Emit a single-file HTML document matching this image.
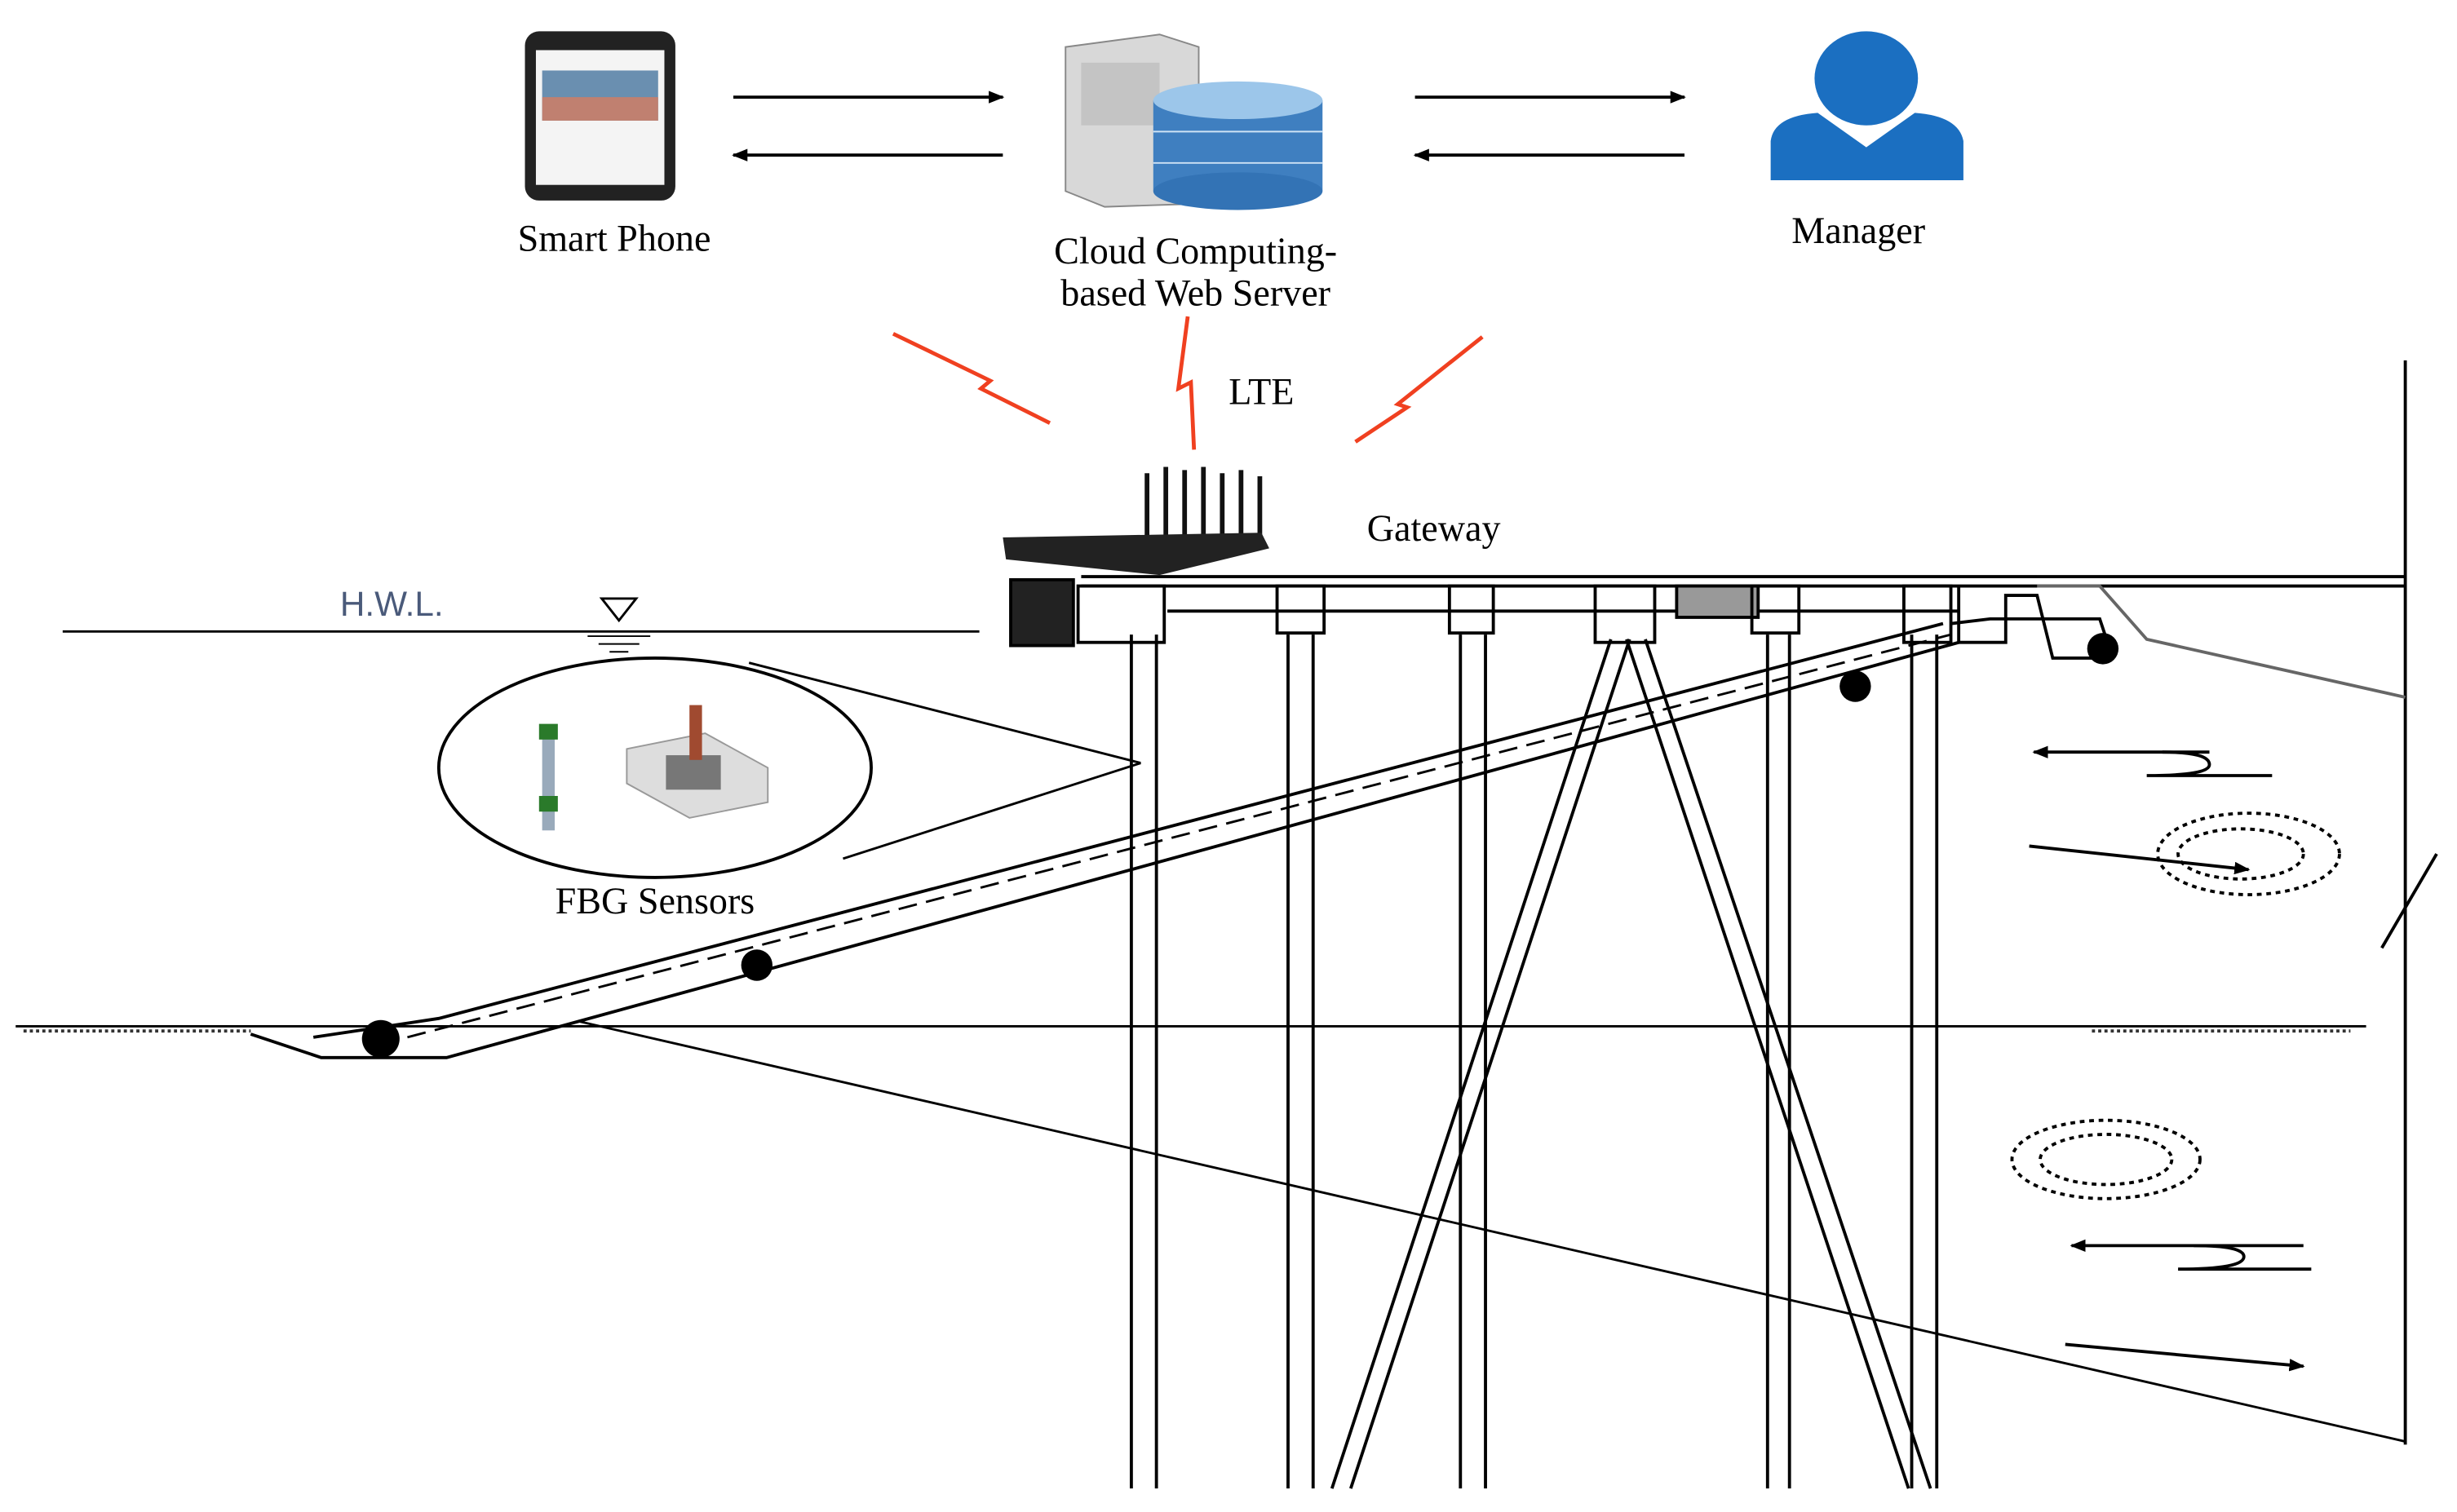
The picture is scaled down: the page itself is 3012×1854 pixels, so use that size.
<!DOCTYPE html>
<html><head><meta charset="utf-8"><style>html,body{margin:0;padding:0;background:#fff}svg{display:block}</style></head>
<body>
<svg width="3012" height="1854" viewBox="0 0 1568 965" preserveAspectRatio="none" xmlns="http://www.w3.org/2000/svg" font-family="Liberation Serif, serif">
<defs>
<marker id="ah" markerWidth="10" markerHeight="8" refX="9" refY="4" orient="auto" markerUnits="userSpaceOnUse"><path d="M0,0 L10,4 L0,8 z" fill="#000"/></marker>
</defs>
<!-- phone -->
<rect x="335" y="20" width="96" height="108" rx="9" fill="#222"/>
<rect x="342" y="32" width="82" height="86" fill="#f4f4f4"/>
<rect x="346" y="45" width="74" height="32" fill="#6a8fb0"/>
<rect x="346" y="62" width="74" height="15" fill="#c08070"/>
<text x="392" y="160" font-size="24" text-anchor="middle">Smart Phone</text>
<!-- arrows -->
<line x1="468" y1="62" x2="640" y2="62" stroke="#000" stroke-width="2" marker-end="url(#ah)"/>
<line x1="640" y1="99" x2="468" y2="99" stroke="#000" stroke-width="2" marker-end="url(#ah)"/>
<line x1="903" y1="62" x2="1075" y2="62" stroke="#000" stroke-width="2" marker-end="url(#ah)"/>
<line x1="1075" y1="99" x2="903" y2="99" stroke="#000" stroke-width="2" marker-end="url(#ah)"/>
<!-- server -->
<path d="M680,30 L740,22 L765,30 L765,130 L705,132 L680,122 Z" fill="#d8d8d8" stroke="#888"/>
<rect x="690" y="40" width="50" height="40" fill="#c4c4c4"/>
<rect x="736" y="64" width="108" height="58" fill="#3f7fc0"/>
<ellipse cx="790" cy="122" rx="54" ry="12" fill="#3373b5"/>
<ellipse cx="790" cy="64" rx="54" ry="12" fill="#9cc6ea"/>
<line x1="736" y1="84" x2="844" y2="84" stroke="#cfe3f5"/><line x1="736" y1="104" x2="844" y2="104" stroke="#cfe3f5"/>
<text x="763" y="168" font-size="24" text-anchor="middle">Cloud Computing-</text>
<text x="763" y="195" font-size="24" text-anchor="middle">based Web Server</text>
<!-- manager -->
<ellipse cx="1191" cy="50" rx="33" ry="30" fill="#1b6fc1"/>
<path d="M1130,115 L1130,90 Q1132,74 1160,72 L1191,94 L1222,72 Q1250,74 1253,90 L1253,115 Z" fill="#1b6fc1"/>
<text x="1186" y="155" font-size="24" text-anchor="middle">Manager</text>
<!-- lightning -->
<g stroke="#f04020" stroke-width="2.5" fill="none">
<polyline points="570,213 632,243 626,248 670,270"/>
<polyline points="758,202 752,248 760,244 762,287"/>
<polyline points="946,215 892,258 898,260 865,282"/>
</g>
<text x="805" y="258" font-size="24" text-anchor="middle">LTE</text>
<!-- gateway -->
<g stroke="#111" stroke-width="3">
<line x1="732" y1="345" x2="732" y2="302"/><line x1="744" y1="345" x2="744" y2="298"/><line x1="756" y1="345" x2="756" y2="300"/><line x1="768" y1="345" x2="768" y2="298"/><line x1="780" y1="345" x2="780" y2="302"/><line x1="792" y1="345" x2="792" y2="300"/><line x1="804" y1="345" x2="804" y2="304"/>
</g>
<path d="M640,343 L805,340 L810,350 L740,367 L642,357 Z" fill="#222"/>
<text x="915" y="345" font-size="24" text-anchor="middle">Gateway</text>
<!-- water -->
<text x="250" y="393" font-size="22" fill="#4a5a7a" font-family="Liberation Sans, sans-serif" text-anchor="middle">H.W.L.</text>
<line x1="40" y1="403" x2="625" y2="403" stroke="#000" stroke-width="1.5"/>
<path d="M384,382 L406,382 L395,396 Z" fill="none" stroke="#000" stroke-width="1.5"/>
<line x1="375" y1="406" x2="415" y2="406" stroke="#000"/><line x1="382" y1="411" x2="408" y2="411" stroke="#000"/><line x1="389" y1="416" x2="401" y2="416" stroke="#000"/>
<!-- sensor bubble -->
<ellipse cx="418" cy="490" rx="138" ry="70" fill="#fff" stroke="#000" stroke-width="2"/>
<line x1="478" y1="423" x2="728" y2="487" stroke="#000" stroke-width="1.5"/>
<line x1="538" y1="548" x2="728" y2="487" stroke="#000" stroke-width="1.5"/>
<rect x="346" y="465" width="8" height="65" fill="#9ab"/><rect x="344" y="462" width="12" height="10" fill="#2a7a2a"/><rect x="344" y="508" width="12" height="10" fill="#2a7a2a"/>
<path d="M400,478 L450,468 L490,490 L490,512 L440,522 L400,500 Z" fill="#ddd" stroke="#999"/>
<rect x="425" y="482" width="35" height="22" fill="#777"/><rect x="440" y="450" width="8" height="35" fill="#a04a30"/>
<text x="418" y="583" font-size="24" text-anchor="middle">FBG Sensors</text>
<!-- structure -->
<g stroke="#000" stroke-width="2" fill="none">
<line x1="1535" y1="230" x2="1535" y2="922"/>
<line x1="690" y1="368" x2="1535" y2="368"/><line x1="690" y1="374" x2="1535" y2="374"/>
<line x1="745" y1="390" x2="1250" y2="390"/>
<rect x="688" y="374" width="55" height="36"/>
<path d="M645,370 L685,370 L685,412 L645,412 Z" fill="#222"/>
<rect x="815" y="374" width="30" height="30"/><rect x="925" y="374" width="28" height="30"/><rect x="1018" y="374" width="38" height="36"/><rect x="1070" y="374" width="52" height="20" fill="#999"/><rect x="1118" y="374" width="30" height="30"/><rect x="1215" y="374" width="30" height="36"/>
<path d="M1250,374 L1250,410 L1280,410 L1280,380 L1300,380 L1310,420 L1335,420"/>
<path d="M1300,374 L1340,374 L1370,408 L1535,445" stroke="#666"/>
<!-- piles -->
<line x1="722" y1="405" x2="722" y2="950"/><line x1="738" y1="405" x2="738" y2="950"/>
<line x1="822" y1="405" x2="822" y2="950"/><line x1="838" y1="405" x2="838" y2="950"/>
<line x1="932" y1="405" x2="932" y2="950"/><line x1="948" y1="405" x2="948" y2="950"/>
<line x1="1128" y1="405" x2="1128" y2="950"/><line x1="1142" y1="405" x2="1142" y2="950"/>
<line x1="1220" y1="405" x2="1220" y2="950"/><line x1="1236" y1="405" x2="1236" y2="950"/>
<line x1="1028" y1="408" x2="850" y2="950"/><line x1="1040" y1="408" x2="862" y2="950"/>
<line x1="1038" y1="408" x2="1218" y2="950"/><line x1="1050" y1="408" x2="1232" y2="950"/>
<!-- slope -->
<polyline points="160,660 205,675 285,675 1250,410"/>
<polyline points="200,662 280,650 1240,398"/>
<line x1="260" y1="662" x2="1245" y2="405" stroke-dasharray="12,6" stroke-width="1.5"/>
<polyline points="1245,398 1270,395 1340,395 1345,410"/>
<!-- ground -->
<line x1="10" y1="655" x2="1510" y2="655" stroke-width="1.5"/>
<line x1="370" y1="652" x2="1535" y2="920" stroke-width="1.5"/>
<!-- flow arrows -->
<line x1="1410" y1="480" x2="1298" y2="480" marker-end="url(#ah)"/>
<path d="M1380,480 Q1410,480 1410,488 Q1410,495 1370,495 L1450,495"/>
<line x1="1295" y1="540" x2="1435" y2="555" marker-end="url(#ah)"/>
<line x1="1470" y1="795" x2="1322" y2="795" marker-end="url(#ah)"/>
<path d="M1400,795 Q1432,795 1432,802 Q1432,810 1390,810 L1475,810"/>
<line x1="1318" y1="858" x2="1470" y2="872" marker-end="url(#ah)"/>
<line x1="1520" y1="605" x2="1555" y2="545"/>
</g>
<g fill="#000">
<circle cx="1342" cy="414" r="10"/><circle cx="1184" cy="438" r="10"/><circle cx="483" cy="616" r="10"/><circle cx="243" cy="663" r="12"/>
</g>
<g fill="none" stroke="#000" stroke-width="2" stroke-dasharray="3,3">
<ellipse cx="1435" cy="545" rx="58" ry="26"/><ellipse cx="1344" cy="740" rx="60" ry="25"/>
<ellipse cx="1430" cy="545" rx="40" ry="16"/><ellipse cx="1344" cy="740" rx="42" ry="16"/>
</g>
<g stroke="#333" stroke-width="2" stroke-dasharray="2,2">
<line x1="15" y1="658" x2="160" y2="658"/><line x1="1335" y1="658" x2="1500" y2="658"/>
</g>
</svg>
</body></html>
